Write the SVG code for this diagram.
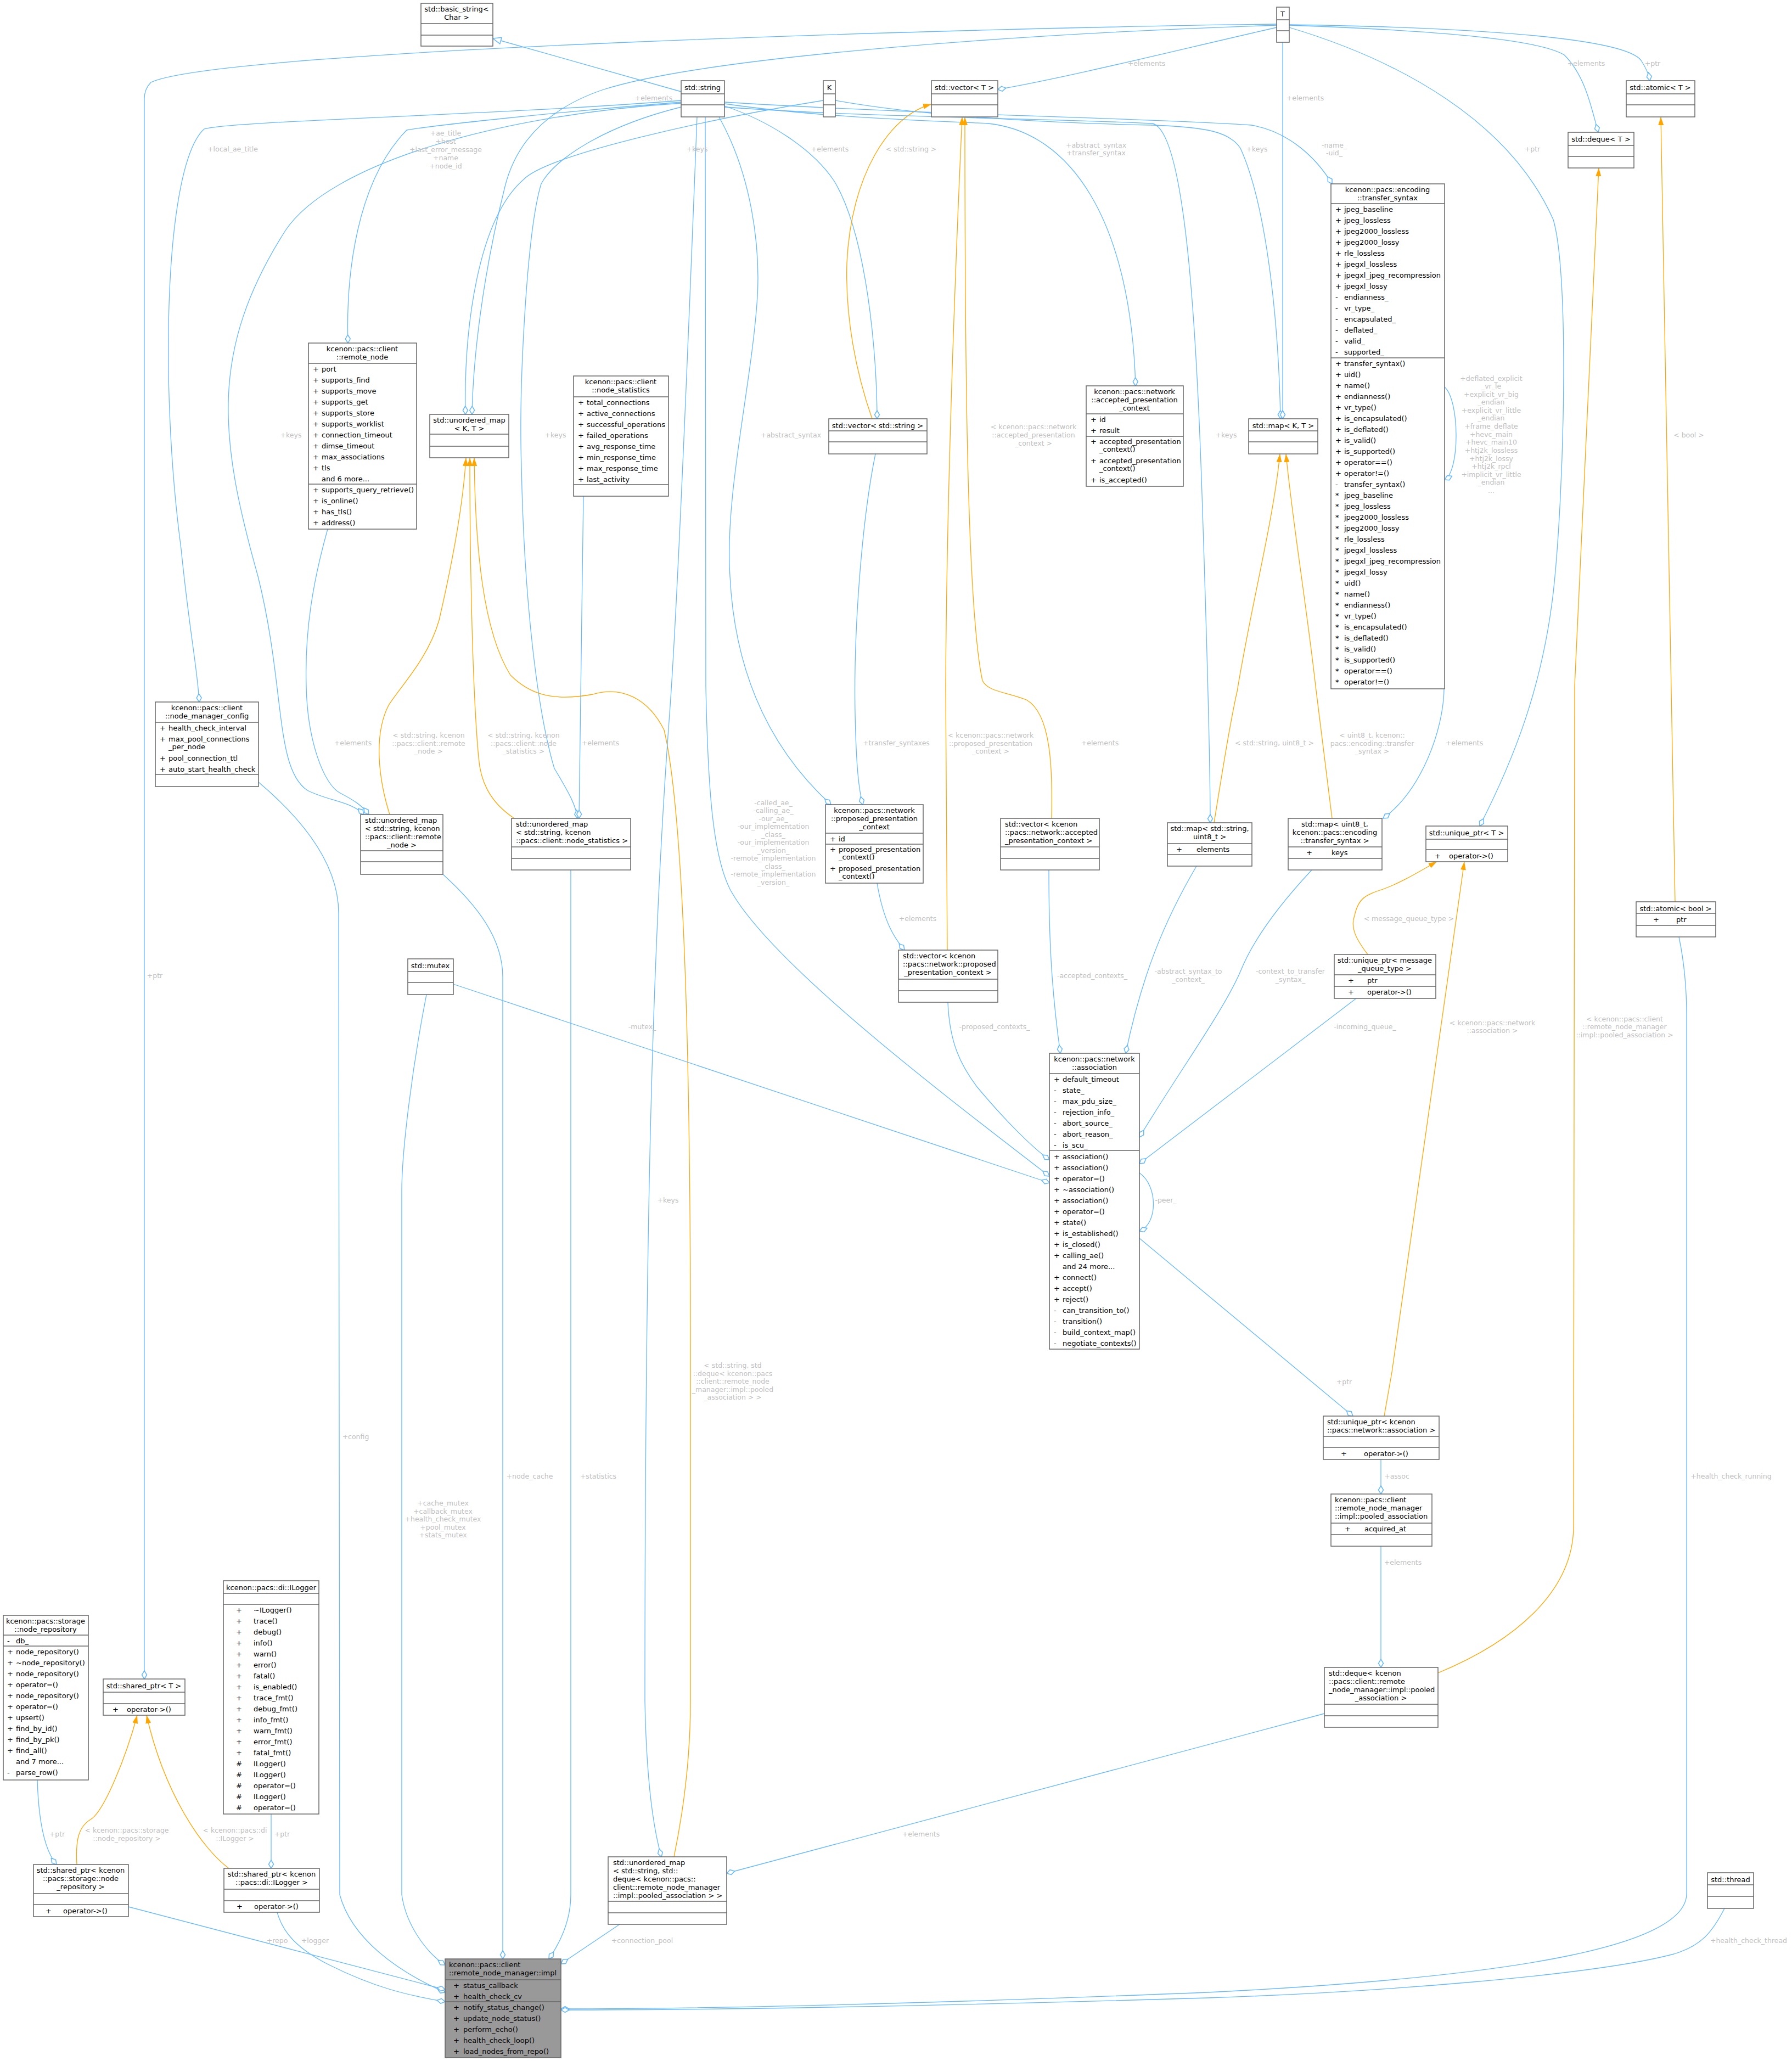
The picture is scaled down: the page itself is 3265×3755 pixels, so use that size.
<svg xmlns="http://www.w3.org/2000/svg" width="3265" height="3755" viewBox="0 0 3265 3755">
<style>
.n rect{fill:#fff;stroke:#666;stroke-width:1.5}
.n line{stroke:#666;stroke-width:1.5}
.n text{font-family:"DejaVu Sans",sans-serif;font-size:13px;fill:#000}
.c{text-anchor:middle}
.e path{fill:none;stroke:#63b8ff;stroke-width:1.3}
.e path.a{marker-end:url(#dia)}
.e path.o{stroke:#ffa500;marker-end:url(#arr)}
.e path.i{marker-end:url(#inh)}
.l text{font-family:"DejaVu Sans",sans-serif;font-size:12.5px;fill:#c0c0c0;text-anchor:middle}
#impl rect{fill:#999}
</style>
<defs>
<marker id="dia" markerUnits="userSpaceOnUse" markerWidth="18" markerHeight="12" refX="16" refY="6" orient="auto"><path d="M1,6 L8.5,1.5 L16,6 L8.5,10.5 z" fill="#fff" stroke="#63b8ff" stroke-width="1.5"/></marker>
<marker id="arr" markerUnits="userSpaceOnUse" markerWidth="16" markerHeight="12" refX="15" refY="6" orient="auto"><path d="M0,1 L15,6 L0,11 z" fill="#ffa500"/></marker>
<marker id="inh" markerUnits="userSpaceOnUse" markerWidth="18" markerHeight="14" refX="16" refY="7" orient="auto"><path d="M1,1 L16,7 L1,13 z" fill="#fff" stroke="#63b8ff" stroke-width="1.5"/></marker>
</defs>
<rect width="3265" height="3755" fill="#fff"/>
<g id="connectors" class="e">
<path class="a" d="M2326,44 C1800,50 400,90 275,150 C265,160 263,170 263,180 L263,3059"/>
<path class="i" d="M1241,167 L898,70"/>
<path class="a" d="M1241,183 C900,210 420,220 372,235 C300,300 290,700 330,1000 C345,1150 360,1220 363,1279"/>
<path class="a" d="M1241,186 C1000,205 780,230 741,237 C650,330 630,500 634,625"/>
<path class="a" d="M1241,188 C900,210 600,300 520,420 C380,640 400,800 470,1050 C520,1250 500,1400 560,1440 C600,1460 640,1460 663,1484"/>
<path class="a" d="M597,964 C570,1060 555,1150 558,1250 C560,1350 590,1430 620,1445 C645,1458 660,1468 672,1484"/>
<path class="a" d="M1500,183 C1300,215 1000,280 954,327 C870,400 845,600 848,755"/>
<path class="a" d="M2326,46 C1900,60 1300,100 1100,163 C960,210 930,300 920,340 C880,500 862,650 860,755"/>
<path class="a" d="M1241,195 C1100,230 1010,290 986,335 C960,420 945,700 950,850 C955,1100 980,1300 1010,1400 C1040,1450 1050,1470 1052,1491"/>
<path class="a" d="M1063,904 C1060,1100 1058,1300 1055,1491"/>
<path class="o" d="M710,1484 C690,1420 680,1340 708,1285 C730,1250 780,1200 800,1130 C830,1000 845,900 849,834"/>
<path class="o" d="M937,1491 C890,1460 875,1420 872,1380 C860,1250 856,1000 856,834"/>
<path class="o" d="M1228,3383 C1245,3300 1258,3200 1258,3100 L1258,2450 C1258,2000 1250,1500 1210,1330 C1180,1270 1130,1250 1080,1265 C1000,1280 960,1260 930,1230 C880,1150 866,1000 864,834"/>
<path class="a" d="M1320,193 C1400,220 1480,270 1520,330 C1580,430 1598,650 1598,763"/>
<path class="o" d="M1589,763 C1560,680 1540,580 1543,480 C1550,320 1620,210 1697,190"/>
<path class="a" d="M1320,189 C1500,215 1700,220 1800,225 C1950,240 2060,400 2069,703"/>
<path class="a" d="M1310,213 C1370,320 1385,450 1380,540 C1370,700 1320,900 1330,1050 C1340,1250 1420,1380 1514,1466"/>
<path class="a" d="M1595,827 C1570,950 1555,1150 1558,1300 C1560,1400 1565,1440 1572,1466"/>
<path class="a" d="M1598,1609 C1610,1680 1630,1710 1648,1731"/>
<path class="o" d="M1726,1731 L1723,1250 C1725,900 1740,500 1753,213"/>
<path class="o" d="M1916,1491 C1918,1400 1915,1300 1870,1275 C1830,1260 1800,1260 1790,1240 C1760,1100 1758,600 1758,213"/>
<path class="a" d="M2326,50 C2150,90 1950,140 1818,163"/>
<path class="a" d="M1320,195 C1600,215 1900,215 2100,225 C2160,240 2180,600 2190,900 C2200,1200 2205,1400 2205,1499"/>
<path class="a" d="M1522,183 C1700,215 1950,225 2100,228 C2200,232 2240,240 2260,270 C2310,380 2330,600 2333,763"/>
<path class="a" d="M2337,77 L2337,763"/>
<path class="o" d="M2212,1499 C2225,1420 2240,1320 2254,1260 C2280,1100 2320,950 2332,827"/>
<path class="o" d="M2427,1491 L2397,1250 C2380,1100 2355,950 2343,827"/>
<path class="a" d="M1320,186 C1700,210 2100,215 2280,228 C2350,240 2400,290 2427,335"/>
<path class="a" d="M2632,705 C2660,730 2660,860 2632,874"/>
<path class="a" d="M2631,1255 C2630,1330 2590,1440 2520,1491"/>
<path class="a" d="M2349,50 C2550,110 2750,220 2830,400 C2860,500 2850,900 2830,1080 C2810,1250 2760,1380 2696,1505"/>
<path class="a" d="M2349,46 C2600,55 2800,70 2850,100 C2890,140 2900,200 2912,241"/>
<path class="a" d="M2349,45 C2700,50 2960,70 2990,110 C3000,125 3004,135 3006,147"/>
<path class="o" d="M3052,1643 L3026,213"/>
<path class="o" d="M2492,1739 C2470,1710 2460,1690 2468,1668 C2475,1635 2490,1630 2520,1620 C2560,1605 2590,1585 2618,1570"/>
<path class="o" d="M2522,2580 L2536,2500 L2668,1570"/>
<path class="o" d="M2620,3048 C2760,2990 2867,2900 2867,2780 L2869,1250 L2913,306"/>
<path class="a" d="M1911,1585 C1911,1700 1915,1800 1932,1919"/>
<path class="a" d="M1727,1826 C1730,1900 1750,1940 1780,1980 C1830,2040 1880,2090 1912,2113"/>
<path class="a" d="M826,1793 L1912,2155"/>
<path class="a" d="M1285,213 L1286,1250 C1290,1450 1300,1560 1330,1620 C1400,1750 1700,1980 1912,2143"/>
<path class="a" d="M1270,213 C1255,600 1235,1100 1220,1300 C1190,1700 1175,2200 1175,3100 C1178,3250 1190,3330 1205,3383"/>
<path class="a" d="M2180,1578 C2120,1680 2080,1780 2051,1919"/>
<path class="a" d="M2390,1585 C2320,1660 2280,1720 2260,1770 C2230,1840 2150,1950 2076,2072"/>
<path class="a" d="M2471,1819 L2076,2120"/>
<path class="a" d="M2076,2137 C2110,2160 2110,2230 2076,2243"/>
<path class="a" d="M2076,2256 L2465,2580"/>
<path class="a" d="M2516,2659 L2516,2722"/>
<path class="a" d="M2516,2817 L2516,3038"/>
<path class="a" d="M2413,3122 L1324,3413"/>
<path class="a" d="M471,1425 C560,1500 617,1580 617,1664 L619,3452 C640,3530 720,3590 811,3630"/>
<path class="a" d="M777,1812 C750,1950 732,2100 732,2170 L732,3452 C740,3510 780,3560 811,3580"/>
<path class="a" d="M807,1593 C870,1650 916,1710 916,1780 L916,3569"/>
<path class="a" d="M1040,1585 L1040,3452 C1040,3500 1020,3540 1000,3569"/>
<path class="a" d="M1129,3506 L1022,3578"/>
<path class="a" d="M234,3474 L811,3625"/>
<path class="a" d="M505,3484 C515,3520 540,3550 600,3580 C680,3620 740,3635 811,3647"/>
<path class="a" d="M494,3305 L494,3404"/>
<path class="a" d="M68,3243 C70,3310 80,3370 103,3397"/>
<path class="o" d="M140,3397 C138,3360 140,3330 165,3315 C190,3300 230,3200 250,3125"/>
<path class="o" d="M417,3404 C370,3370 300,3270 267,3125"/>
<path class="a" d="M3059,1707 C3070,1760 3073,1810 3073,1850 L3073,3450 C3073,3540 2800,3600 2200,3630 C1700,3650 1300,3660 1022,3660"/>
<path class="a" d="M3142,3477 C3120,3520 3100,3545 3050,3560 C2900,3600 2500,3630 2200,3640 C1700,3655 1300,3662 1022,3662"/>
</g>
<g class="l">
<text x="282" y="1782">+ptr</text>
<text x="424" y="276">+local_ae_title</text>
<text x="812" y="247">+ae_title</text><text x="812" y="262">+host</text><text x="812" y="277">+last_error_message</text><text x="812" y="292">+name</text><text x="812" y="307">+node_id</text>
<text x="530" y="797">+keys</text>
<text x="1012" y="797">+keys</text>
<text x="1191" y="183">+elements</text>
<text x="1270" y="276">+keys</text>
<text x="1512" y="276">+elements</text>
<text x="1660" y="276">&lt; std::string &gt;</text>
<text x="1997" y="269">+abstract_syntax</text><text x="1997" y="283">+transfer_syntax</text>
<text x="1441" y="797">+abstract_syntax</text>
<text x="1883" y="782">&lt; kcenon::pacs::network</text><text x="1883" y="797">::accepted_presentation</text><text x="1883" y="812">_context &gt;</text>
<text x="2089" y="120">+elements</text>
<text x="2378" y="183">+elements</text>
<text x="2290" y="276">+keys</text>
<text x="2431" y="269">-name_</text><text x="2431" y="283">-uid_</text>
<text x="2792" y="276">+ptr</text>
<text x="2890" y="120">+elements</text>
<text x="3011" y="120">+ptr</text>
<text x="2234" y="797">+keys</text>
<text x="2717" y="694">+deflated_explicit</text><text x="2717" y="708">_vr_le</text><text x="2717" y="723">+explicit_vr_big</text><text x="2717" y="737">_endian</text><text x="2717" y="752">+explicit_vr_little</text><text x="2717" y="766">_endian</text><text x="2717" y="781">+frame_deflate</text><text x="2717" y="796">+hevc_main</text><text x="2717" y="810">+hevc_main10</text><text x="2717" y="825">+htj2k_lossless</text><text x="2717" y="840">+htj2k_lossy</text><text x="2717" y="854">+htj2k_rpcl</text><text x="2717" y="869">+implicit_vr_little</text><text x="2717" y="883">_endian</text><text x="2717" y="898">...</text>
<text x="3077" y="797">&lt; bool &gt;</text>
<text x="643" y="1358">+elements</text>
<text x="781" y="1344">&lt; std::string, kcenon</text><text x="781" y="1359">::pacs::client::remote</text><text x="781" y="1373">_node &gt;</text>
<text x="954" y="1344">&lt; std::string, kcenon</text><text x="954" y="1359">::pacs::client::node</text><text x="954" y="1373">_statistics &gt;</text>
<text x="1094" y="1358">+elements</text>
<text x="1633" y="1358">+transfer_syntaxes</text>
<text x="1805" y="1344">&lt; kcenon::pacs::network</text><text x="1805" y="1359">::proposed_presentation</text><text x="1805" y="1373">_context &gt;</text>
<text x="2004" y="1358">+elements</text>
<text x="1409" y="1467">-called_ae_</text><text x="1409" y="1481">-calling_ae_</text><text x="1409" y="1496">-our_ae_</text><text x="1409" y="1510">-our_implementation</text><text x="1409" y="1525">_class_</text><text x="1409" y="1539">-our_implementation</text><text x="1409" y="1554">_version_</text><text x="1409" y="1568">-remote_implementation</text><text x="1409" y="1583">_class_</text><text x="1409" y="1597">-remote_implementation</text><text x="1409" y="1612">_version_</text>
<text x="1672" y="1678">+elements</text>
<text x="1990" y="1782">-accepted_contexts_</text>
<text x="2165" y="1774">-abstract_syntax_to</text><text x="2165" y="1789">_context_</text>
<text x="1170" y="1875">-mutex_</text>
<text x="1812" y="1875">-proposed_contexts_</text>
<text x="1217" y="2191">+keys</text>
<text x="2124" y="2191">-peer_</text>
<text x="1335" y="2492">&lt; std::string, std</text><text x="1335" y="2507">::deque&lt; kcenon::pacs</text><text x="1335" y="2521">::client::remote_node</text><text x="1335" y="2536">_manager::impl::pooled</text><text x="1335" y="2550">_association &gt; &gt;</text>
<text x="2322" y="1358">&lt; std::string, uint8_t &gt;</text>
<text x="2500" y="1344">&lt; uint8_t, kcenon::</text><text x="2500" y="1359">pacs::encoding::transfer</text><text x="2500" y="1373">_syntax &gt;</text>
<text x="2668" y="1358">+elements</text>
<text x="2567" y="1678">&lt; message_queue_type &gt;</text>
<text x="2351" y="1774">-context_to_transfer</text><text x="2351" y="1789">_syntax_</text>
<text x="2487" y="1875">-incoming_queue_</text>
<text x="2719" y="1868">&lt; kcenon::pacs::network</text><text x="2719" y="1882">::association &gt;</text>
<text x="2960" y="1861">&lt; kcenon::pacs::client</text><text x="2960" y="1875">::remote_node_manager</text><text x="2960" y="1890">::impl::pooled_association &gt;</text>
<text x="648" y="2622">+config</text>
<text x="965" y="2694">+node_cache</text>
<text x="1090" y="2694">+statistics</text>
<text x="807" y="2743">+cache_mutex</text><text x="807" y="2758">+callback_mutex</text><text x="807" y="2772">+health_check_mutex</text><text x="807" y="2787">+pool_mutex</text><text x="807" y="2801">+stats_mutex</text>
<text x="104" y="3346">+ptr</text>
<text x="231" y="3339">&lt; kcenon::pacs::storage</text><text x="231" y="3354">::node_repository &gt;</text>
<text x="428" y="3339">&lt; kcenon::pacs::di</text><text x="428" y="3354">::ILogger &gt;</text>
<text x="514" y="3346">+ptr</text>
<text x="505" y="3540">+repo</text>
<text x="574" y="3540">+logger</text>
<text x="1678" y="3346">+elements</text>
<text x="1170" y="3540">+connection_pool</text>
<text x="2449" y="2522">+ptr</text>
<text x="2545" y="2694">+assoc</text>
<text x="2556" y="2851">+elements</text>
<text x="3154" y="2694">+health_check_running</text>
<text x="3186" y="3540">+health_check_thread</text>
</g>
<g id="basic_string" class="n"><rect x="767" y="6" width="131" height="78"/><text class="c" x="832" y="21">std::basic_string&lt;</text><text class="c" x="832" y="36">Char &gt;</text><line x1="767" y1="43" x2="898" y2="43"/><line x1="767" y1="64" x2="898" y2="64"/></g>
<g id="string" class="n"><rect x="1241" y="147" width="79" height="66"/><text class="c" x="1280" y="164">std::string</text><line x1="1241" y1="171" x2="1320" y2="171"/><line x1="1241" y1="191" x2="1320" y2="191"/></g>
<g id="K" class="n"><rect x="1500" y="147" width="22" height="66"/><text class="c" x="1511" y="164">K</text><line x1="1500" y1="171" x2="1522" y2="171"/><line x1="1500" y1="191" x2="1522" y2="191"/></g>
<g id="vector_T" class="n"><rect x="1697" y="147" width="121" height="66"/><text class="c" x="1757" y="164">std::vector&lt; T &gt;</text><line x1="1697" y1="171" x2="1818" y2="171"/><line x1="1697" y1="191" x2="1818" y2="191"/></g>
<g id="T" class="n"><rect x="2326" y="13" width="23" height="64"/><text class="c" x="2337" y="30">T</text><line x1="2326" y1="36" x2="2349" y2="36"/><line x1="2326" y1="56" x2="2349" y2="56"/></g>
<g id="atomic_T" class="n"><rect x="2963" y="147" width="125" height="66"/><text class="c" x="3025" y="164">std::atomic&lt; T &gt;</text><line x1="2963" y1="171" x2="3088" y2="171"/><line x1="2963" y1="191" x2="3088" y2="191"/></g>
<g id="deque_T" class="n"><rect x="2857" y="241" width="120" height="65"/><text class="c" x="2917" y="258">std::deque&lt; T &gt;</text><line x1="2857" y1="265" x2="2977" y2="265"/><line x1="2857" y1="285" x2="2977" y2="285"/></g>
<g id="remote_node" class="n"><rect x="562" y="625" width="197" height="339"/><text class="c" x="660" y="640">kcenon::pacs::client</text><text class="c" x="660" y="655">::remote_node</text><line x1="562" y1="662" x2="759" y2="662"/>
<text x="570" y="677">+</text><text x="586" y="677">port</text><text x="570" y="697">+</text><text x="586" y="697">supports_find</text><text x="570" y="717">+</text><text x="586" y="717">supports_move</text><text x="570" y="737">+</text><text x="586" y="737">supports_get</text><text x="570" y="757">+</text><text x="586" y="757">supports_store</text><text x="570" y="777">+</text><text x="586" y="777">supports_worklist</text><text x="570" y="797">+</text><text x="586" y="797">connection_timeout</text><text x="570" y="817">+</text><text x="586" y="817">dimse_timeout</text><text x="570" y="837">+</text><text x="586" y="837">max_associations</text><text x="570" y="857">+</text><text x="586" y="857">tls</text><text x="586" y="877">and 6 more...</text>
<line x1="562" y1="882" x2="759" y2="882"/><text x="570" y="897">+</text><text x="586" y="897">supports_query_retrieve()</text><text x="570" y="917">+</text><text x="586" y="917">is_online()</text><text x="570" y="937">+</text><text x="586" y="937">has_tls()</text><text x="570" y="957">+</text><text x="586" y="957">address()</text></g>
<g id="umap_KT" class="n"><rect x="783" y="755" width="144" height="79"/><text class="c" x="855" y="770">std::unordered_map</text><text class="c" x="855" y="785">&lt; K, T &gt;</text><line x1="783" y1="791" x2="927" y2="791"/><line x1="783" y1="813" x2="927" y2="813"/></g>
<g id="node_statistics" class="n"><rect x="1045" y="685" width="173" height="219"/><text class="c" x="1131" y="700">kcenon::pacs::client</text><text class="c" x="1131" y="715">::node_statistics</text><line x1="1045" y1="723" x2="1218" y2="723"/>
<text x="1053" y="738">+</text><text x="1069" y="738">total_connections</text><text x="1053" y="758">+</text><text x="1069" y="758">active_connections</text><text x="1053" y="778">+</text><text x="1069" y="778">successful_operations</text><text x="1053" y="798">+</text><text x="1069" y="798">failed_operations</text><text x="1053" y="818">+</text><text x="1069" y="818">avg_response_time</text><text x="1053" y="838">+</text><text x="1069" y="838">min_response_time</text><text x="1053" y="858">+</text><text x="1069" y="858">max_response_time</text><text x="1053" y="878">+</text><text x="1069" y="878">last_activity</text><line x1="1045" y1="883" x2="1218" y2="883"/></g>
<g id="vector_string" class="n"><rect x="1510" y="763" width="179" height="64"/><text class="c" x="1599" y="780">std::vector&lt; std::string &gt;</text><line x1="1510" y1="785" x2="1689" y2="785"/><line x1="1510" y1="805" x2="1689" y2="805"/></g>
<g id="accepted_pc" class="n"><rect x="1979" y="703" width="177" height="183"/><text class="c" x="2067" y="718">kcenon::pacs::network</text><text class="c" x="2067" y="733">::accepted_presentation</text><text class="c" x="2067" y="748">_context</text><line x1="1979" y1="754" x2="2156" y2="754"/>
<text x="1987" y="769">+</text><text x="2003" y="769">id</text><text x="1987" y="789">+</text><text x="2003" y="789">result</text><line x1="1979" y1="795" x2="2156" y2="795"/>
<text x="1987" y="809">+</text><text x="2003" y="809">accepted_presentation</text><text x="2003" y="823">_context()</text><text x="1987" y="844">+</text><text x="2003" y="844">accepted_presentation</text><text x="2003" y="858">_context()</text><text x="1987" y="879">+</text><text x="2003" y="879">is_accepted()</text></g>
<g id="map_KT" class="n"><rect x="2275" y="763" width="126" height="64"/><text class="c" x="2338" y="780">std::map&lt; K, T &gt;</text><line x1="2275" y1="785" x2="2401" y2="785"/><line x1="2275" y1="805" x2="2401" y2="805"/></g>
<g id="transfer_syntax" class="n"><rect x="2425" y="335" width="207" height="920"/><text class="c" x="2528" y="350">kcenon::pacs::encoding</text><text class="c" x="2528" y="365">::transfer_syntax</text><line x1="2425" y1="371" x2="2632" y2="371"/>
<g transform="translate(2433,386)">
<text y="0">+</text><text x="16" y="0">jpeg_baseline</text><text y="20">+</text><text x="16" y="20">jpeg_lossless</text><text y="40">+</text><text x="16" y="40">jpeg2000_lossless</text><text y="60">+</text><text x="16" y="60">jpeg2000_lossy</text><text y="80">+</text><text x="16" y="80">rle_lossless</text><text y="100">+</text><text x="16" y="100">jpegxl_lossless</text><text y="120">+</text><text x="16" y="120">jpegxl_jpeg_recompression</text><text y="140">+</text><text x="16" y="140">jpegxl_lossy</text><text y="160">-</text><text x="16" y="160">endianness_</text><text y="180">-</text><text x="16" y="180">vr_type_</text><text y="200">-</text><text x="16" y="200">encapsulated_</text><text y="220">-</text><text x="16" y="220">deflated_</text><text y="240">-</text><text x="16" y="240">valid_</text><text y="260">-</text><text x="16" y="260">supported_</text>
<text y="281">+</text><text x="16" y="281">transfer_syntax()</text><text y="301">+</text><text x="16" y="301">uid()</text><text y="321">+</text><text x="16" y="321">name()</text><text y="341">+</text><text x="16" y="341">endianness()</text><text y="361">+</text><text x="16" y="361">vr_type()</text><text y="381">+</text><text x="16" y="381">is_encapsulated()</text><text y="401">+</text><text x="16" y="401">is_deflated()</text><text y="421">+</text><text x="16" y="421">is_valid()</text><text y="441">+</text><text x="16" y="441">is_supported()</text><text y="461">+</text><text x="16" y="461">operator==()</text><text y="481">+</text><text x="16" y="481">operator!=()</text><text y="501">-</text><text x="16" y="501">transfer_syntax()</text>
<text y="521">*</text><text x="16" y="521">jpeg_baseline</text><text y="541">*</text><text x="16" y="541">jpeg_lossless</text><text y="561">*</text><text x="16" y="561">jpeg2000_lossless</text><text y="581">*</text><text x="16" y="581">jpeg2000_lossy</text><text y="601">*</text><text x="16" y="601">rle_lossless</text><text y="621">*</text><text x="16" y="621">jpegxl_lossless</text><text y="641">*</text><text x="16" y="641">jpegxl_jpeg_recompression</text><text y="661">*</text><text x="16" y="661">jpegxl_lossy</text><text y="681">*</text><text x="16" y="681">uid()</text><text y="701">*</text><text x="16" y="701">name()</text><text y="721">*</text><text x="16" y="721">endianness()</text><text y="741">*</text><text x="16" y="741">vr_type()</text><text y="761">*</text><text x="16" y="761">is_encapsulated()</text><text y="781">*</text><text x="16" y="781">is_deflated()</text><text y="801">*</text><text x="16" y="801">is_valid()</text><text y="821">*</text><text x="16" y="821">is_supported()</text><text y="841">*</text><text x="16" y="841">operator==()</text><text y="861">*</text><text x="16" y="861">operator!=()</text>
</g><line x1="2425" y1="652" x2="2632" y2="652"/></g>
<g id="node_manager_config" class="n"><rect x="283" y="1279" width="188" height="154"/><text class="c" x="377" y="1294">kcenon::pacs::client</text><text class="c" x="377" y="1309">::node_manager_config</text><line x1="283" y1="1316" x2="471" y2="1316"/>
<text x="291" y="1331">+</text><text x="307" y="1331">health_check_interval</text><text x="291" y="1351">+</text><text x="307" y="1351">max_pool_connections</text><text x="307" y="1365">_per_node</text><text x="291" y="1386">+</text><text x="307" y="1386">pool_connection_ttl</text><text x="291" y="1406">+</text><text x="307" y="1406">auto_start_health_check</text><line x1="283" y1="1411" x2="471" y2="1411"/></g>
<g id="umap_rn" class="n"><rect x="657" y="1484" width="150" height="109"/><text x="665" y="1499">std::unordered_map</text><text x="665" y="1514">&lt; std::string, kcenon</text><text x="665" y="1529">::pacs::client::remote</text><text class="c" x="732" y="1544">_node &gt;</text><line x1="657" y1="1550" x2="807" y2="1550"/><line x1="657" y1="1570" x2="807" y2="1570"/></g>
<g id="umap_ns" class="n"><rect x="932" y="1491" width="217" height="94"/><text x="940" y="1506">std::unordered_map</text><text x="940" y="1521">&lt; std::string, kcenon</text><text x="940" y="1536">::pacs::client::node_statistics &gt;</text><line x1="932" y1="1543" x2="1149" y2="1543"/><line x1="932" y1="1564" x2="1149" y2="1564"/></g>
<g id="proposed_pc" class="n"><rect x="1504" y="1466" width="178" height="143"/><text class="c" x="1593" y="1481">kcenon::pacs::network</text><text class="c" x="1593" y="1496">::proposed_presentation</text><text class="c" x="1593" y="1511">_context</text><line x1="1504" y1="1518" x2="1682" y2="1518"/>
<text x="1512" y="1533">+</text><text x="1528" y="1533">id</text><line x1="1504" y1="1538" x2="1682" y2="1538"/><text x="1512" y="1552">+</text><text x="1528" y="1552">proposed_presentation</text><text x="1528" y="1566">_context()</text><text x="1512" y="1587">+</text><text x="1528" y="1587">proposed_presentation</text><text x="1528" y="1601">_context()</text></g>
<g id="vector_accepted" class="n"><rect x="1823" y="1491" width="180" height="94"/><text x="1831" y="1506">std::vector&lt; kcenon</text><text x="1831" y="1521">::pacs::network::accepted</text><text x="1831" y="1536">_presentation_context &gt;</text><line x1="1823" y1="1543" x2="2003" y2="1543"/><line x1="1823" y1="1564" x2="2003" y2="1564"/></g>
<g id="map_string_uint8" class="n"><rect x="2127" y="1499" width="154" height="79"/><text class="c" x="2204" y="1514">std::map&lt; std::string,</text><text class="c" x="2204" y="1529">uint8_t &gt;</text><line x1="2127" y1="1537" x2="2281" y2="1537"/><text x="2143" y="1552">+</text><text x="2180" y="1552">elements</text><line x1="2127" y1="1557" x2="2281" y2="1557"/></g>
<g id="map_uint8_ts" class="n"><rect x="2347" y="1491" width="171" height="94"/><text class="c" x="2432" y="1506">std::map&lt; uint8_t,</text><text class="c" x="2432" y="1521">kcenon::pacs::encoding</text><text class="c" x="2432" y="1536">::transfer_syntax &gt;</text><line x1="2347" y1="1543" x2="2518" y2="1543"/><text x="2380" y="1558">+</text><text x="2426" y="1558">keys</text><line x1="2347" y1="1564" x2="2518" y2="1564"/></g>
<g id="unique_ptr_T" class="n"><rect x="2598" y="1505" width="149" height="65"/><text class="c" x="2672" y="1522">std::unique_ptr&lt; T &gt;</text><line x1="2598" y1="1529" x2="2747" y2="1529"/><line x1="2598" y1="1548" x2="2747" y2="1548"/><text x="2614" y="1564">+</text><text x="2640" y="1564">operator-&gt;()</text></g>
<g id="atomic_bool" class="n"><rect x="2981" y="1643" width="145" height="64"/><text class="c" x="3053" y="1660">std::atomic&lt; bool &gt;</text><line x1="2981" y1="1664" x2="3126" y2="1664"/><text x="3012" y="1680">+</text><text x="3054" y="1680">ptr</text><line x1="2981" y1="1686" x2="3126" y2="1686"/></g>
<g id="unique_ptr_mqt" class="n"><rect x="2431" y="1739" width="185" height="80"/><text class="c" x="2523" y="1754">std::unique_ptr&lt; message</text><text class="c" x="2523" y="1769">_queue_type &gt;</text><line x1="2431" y1="1776" x2="2616" y2="1776"/><text x="2456" y="1791">+</text><text x="2491" y="1791">ptr</text><line x1="2431" y1="1797" x2="2616" y2="1797"/><text x="2456" y="1812">+</text><text x="2491" y="1812">operator-&gt;()</text></g>
<g id="vector_proposed" class="n"><rect x="1637" y="1731" width="181" height="95"/><text x="1645" y="1746">std::vector&lt; kcenon</text><text x="1645" y="1761">::pacs::network::proposed</text><text class="c" x="1727" y="1776">_presentation_context &gt;</text><line x1="1637" y1="1784" x2="1818" y2="1784"/><line x1="1637" y1="1805" x2="1818" y2="1805"/></g>
<g id="mutex" class="n"><rect x="743" y="1747" width="83" height="65"/><text class="c" x="784" y="1764">std::mutex</text><line x1="743" y1="1770" x2="826" y2="1770"/><line x1="743" y1="1790" x2="826" y2="1790"/></g>
<g id="association" class="n"><rect x="1912" y="1919" width="164" height="539"/><text class="c" x="1994" y="1934">kcenon::pacs::network</text><text class="c" x="1994" y="1949">::association</text><line x1="1912" y1="1956" x2="2076" y2="1956"/>
<g transform="translate(1920,1971)">
<text>+</text><text x="16">default_timeout</text><text y="20">-</text><text x="16" y="20">state_</text><text y="40">-</text><text x="16" y="40">max_pdu_size_</text><text y="60">-</text><text x="16" y="60">rejection_info_</text><text y="80">-</text><text x="16" y="80">abort_source_</text><text y="100">-</text><text x="16" y="100">abort_reason_</text><text y="120">-</text><text x="16" y="120">is_scu_</text>
<text y="141">+</text><text x="16" y="141">association()</text><text y="161">+</text><text x="16" y="161">association()</text><text y="181">+</text><text x="16" y="181">operator=()</text><text y="201">+</text><text x="16" y="201">~association()</text><text y="221">+</text><text x="16" y="221">association()</text><text y="241">+</text><text x="16" y="241">operator=()</text><text y="261">+</text><text x="16" y="261">state()</text><text y="281">+</text><text x="16" y="281">is_established()</text><text y="301">+</text><text x="16" y="301">is_closed()</text><text y="321">+</text><text x="16" y="321">calling_ae()</text><text x="16" y="341">and 24 more...</text><text y="361">+</text><text x="16" y="361">connect()</text><text y="381">+</text><text x="16" y="381">accept()</text><text y="401">+</text><text x="16" y="401">reject()</text><text y="421">-</text><text x="16" y="421">can_transition_to()</text><text y="441">-</text><text x="16" y="441">transition()</text><text y="461">-</text><text x="16" y="461">build_context_map()</text><text y="481">-</text><text x="16" y="481">negotiate_contexts()</text>
</g><line x1="1912" y1="2096" x2="2076" y2="2096"/></g>
<g id="unique_ptr_assoc" class="n"><rect x="2411" y="2580" width="211" height="79"/><text x="2418" y="2595">std::unique_ptr&lt; kcenon</text><text x="2418" y="2610">::pacs::network::association &gt;</text><line x1="2411" y1="2617" x2="2622" y2="2617"/><line x1="2411" y1="2637" x2="2622" y2="2637"/><text x="2443" y="2653">+</text><text x="2485" y="2653">operator-&gt;()</text></g>
<g id="pooled_association" class="n"><rect x="2425" y="2722" width="184" height="95"/><text x="2432" y="2737">kcenon::pacs::client</text><text x="2432" y="2752">::remote_node_manager</text><text x="2432" y="2767">::impl::pooled_association</text><line x1="2425" y1="2775" x2="2609" y2="2775"/><text x="2450" y="2790">+</text><text x="2486" y="2790">acquired_at</text><line x1="2425" y1="2796" x2="2609" y2="2796"/></g>
<g id="deque_pooled" class="n"><rect x="2413" y="3038" width="207" height="109"/><text x="2421" y="3053">std::deque&lt; kcenon</text><text x="2421" y="3068">::pacs::client::remote</text><text x="2421" y="3083">_node_manager::impl::pooled</text><text class="c" x="2516" y="3098">_association &gt;</text><line x1="2413" y1="3105" x2="2620" y2="3105"/><line x1="2413" y1="3126" x2="2620" y2="3126"/></g>
<g id="thread" class="n"><rect x="3111" y="3412" width="84" height="65"/><text class="c" x="3153" y="3429">std::thread</text><line x1="3111" y1="3434" x2="3195" y2="3434"/><line x1="3111" y1="3455" x2="3195" y2="3455"/></g>
<g id="node_repository" class="n"><rect x="6" y="2943" width="155" height="300"/><text class="c" x="83" y="2958">kcenon::pacs::storage</text><text class="c" x="83" y="2973">::node_repository</text><line x1="6" y1="2979" x2="161" y2="2979"/>
<g transform="translate(13,2994)"><text>-</text><text x="16">db_</text>
<text y="20">+</text><text x="16" y="20">node_repository()</text><text y="40">+</text><text x="16" y="40">~node_repository()</text><text y="60">+</text><text x="16" y="60">node_repository()</text><text y="80">+</text><text x="16" y="80">operator=()</text><text y="100">+</text><text x="16" y="100">node_repository()</text><text y="120">+</text><text x="16" y="120">operator=()</text><text y="140">+</text><text x="16" y="140">upsert()</text><text y="160">+</text><text x="16" y="160">find_by_id()</text><text y="180">+</text><text x="16" y="180">find_by_pk()</text><text y="200">+</text><text x="16" y="200">find_all()</text><text x="16" y="220">and 7 more...</text><text y="240">-</text><text x="16" y="240">parse_row()</text></g>
<line x1="6" y1="2999" x2="161" y2="2999"/></g>
<g id="shared_ptr_T" class="n"><rect x="188" y="3059" width="149" height="66"/><text class="c" x="262" y="3076">std::shared_ptr&lt; T &gt;</text><line x1="188" y1="3083" x2="337" y2="3083"/><line x1="188" y1="3104" x2="337" y2="3104"/><text x="205" y="3119">+</text><text x="231" y="3119">operator-&gt;()</text></g>
<g id="ILogger" class="n"><rect x="407" y="2880" width="174" height="425"/><text class="c" x="494" y="2897">kcenon::pacs::di::ILogger</text><line x1="407" y1="2903" x2="581" y2="2903"/><line x1="407" y1="2923" x2="581" y2="2923"/>
<g transform="translate(430,2938)"><text>+</text><text x="32">~ILogger()</text><text y="20">+</text><text x="32" y="20">trace()</text><text y="40">+</text><text x="32" y="40">debug()</text><text y="60">+</text><text x="32" y="60">info()</text><text y="80">+</text><text x="32" y="80">warn()</text><text y="100">+</text><text x="32" y="100">error()</text><text y="120">+</text><text x="32" y="120">fatal()</text><text y="140">+</text><text x="32" y="140">is_enabled()</text><text y="160">+</text><text x="32" y="160">trace_fmt()</text><text y="180">+</text><text x="32" y="180">debug_fmt()</text><text y="200">+</text><text x="32" y="200">info_fmt()</text><text y="220">+</text><text x="32" y="220">warn_fmt()</text><text y="240">+</text><text x="32" y="240">error_fmt()</text><text y="260">+</text><text x="32" y="260">fatal_fmt()</text><text y="280">#</text><text x="32" y="280">ILogger()</text><text y="300">#</text><text x="32" y="300">ILogger()</text><text y="320">#</text><text x="32" y="320">operator=()</text><text y="340">#</text><text x="32" y="340">ILogger()</text><text y="360">#</text><text x="32" y="360">operator=()</text></g></g>
<g id="shared_ptr_repo" class="n"><rect x="61" y="3397" width="173" height="95"/><text class="c" x="147" y="3412">std::shared_ptr&lt; kcenon</text><text class="c" x="147" y="3427">::pacs::storage::node</text><text class="c" x="147" y="3442">_repository &gt;</text><line x1="61" y1="3450" x2="234" y2="3450"/><line x1="61" y1="3470" x2="234" y2="3470"/><text x="83" y="3486">+</text><text x="115" y="3486">operator-&gt;()</text></g>
<g id="shared_ptr_logger" class="n"><rect x="408" y="3404" width="174" height="80"/><text class="c" x="495" y="3419">std::shared_ptr&lt; kcenon</text><text class="c" x="495" y="3434">::pacs::di::ILogger &gt;</text><line x1="408" y1="3442" x2="582" y2="3442"/><line x1="408" y1="3463" x2="582" y2="3463"/><text x="431" y="3478">+</text><text x="463" y="3478">operator-&gt;()</text></g>
<g id="umap_pooled" class="n"><rect x="1108" y="3383" width="216" height="123"/><text x="1117" y="3398">std::unordered_map</text><text x="1117" y="3413">&lt; std::string, std::</text><text x="1117" y="3428">deque&lt; kcenon::pacs::</text><text x="1117" y="3443">client::remote_node_manager</text><text x="1117" y="3458">::impl::pooled_association &gt; &gt;</text><line x1="1108" y1="3464" x2="1324" y2="3464"/><line x1="1108" y1="3485" x2="1324" y2="3485"/></g>
<g id="impl" class="n"><rect x="811" y="3569" width="211" height="180"/><text x="818" y="3584">kcenon::pacs::client</text><text x="818" y="3599">::remote_node_manager::impl</text><line x1="811" y1="3607" x2="1022" y2="3607"/>
<g transform="translate(826,3622)"><text>+</text><text x="18">status_callback</text><text y="20">+</text><text x="18" y="20">health_check_cv</text><text y="40">+</text><text x="18" y="40">notify_status_change()</text><text y="60">+</text><text x="18" y="60">update_node_status()</text><text y="80">+</text><text x="18" y="80">perform_echo()</text><text y="100">+</text><text x="18" y="100">health_check_loop()</text><text y="120">+</text><text x="18" y="120">load_nodes_from_repo()</text></g><line x1="811" y1="3647" x2="1022" y2="3647"/></g>
</svg>
